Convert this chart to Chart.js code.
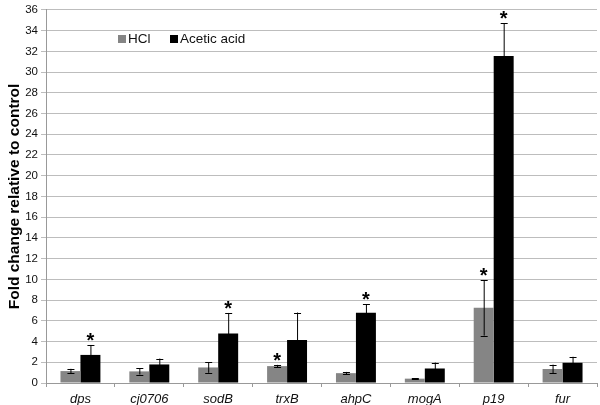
<!DOCTYPE html>
<html>
<head>
<meta charset="utf-8">
<script src="https://cdn.jsdelivr.net/npm/chart.js"></script>
<style>
  html, body { margin: 0; padding: 0; background: #fff; }
  #wrap { width: 600px; height: 405px; }
</style>
</head>
<body>
<div id="wrap"><canvas id="chart" width="600" height="405"></canvas></div>
<script>
const genes = ['dps', 'cj0706', 'sodB', 'trxB', 'ahpC', 'mogA', 'p19', 'fur'];
const hclValues = [1.15, 1.12, 1.5, 1.63, 0.95, 0.42, 7.25, 1.35];
const hclErrors = [0.22, 0.3, 0.52, 0.12, 0.12, 0.05, 2.68, 0.42];
const hclStars = [0, 0, 0, 1, 0, 0, 1, 0];
const aceticValues = [2.71, 1.79, 4.78, 4.15, 6.77, 1.4, 31.55, 1.95];
const aceticErrors = [0.96, 0.57, 1.98, 2.65, 0.83, 0.57, 3.15, 0.58];
const aceticStars = [1, 0, 1, 0, 1, 0, 1, 0];
const yTicks = [0, 2, 4, 6, 8, 10, 12, 14, 16, 18, 20, 22, 24, 26, 28, 30, 32, 34, 36];

const FONT = '"Liberation Sans", Arial, sans-serif';

// error bars + significance stars
const errorBars = {
  id: 'errorBars',
  afterDatasetsDraw(chart) {
    const ctx = chart.ctx;
    const y = chart.scales.y;
    chart.data.datasets.forEach((ds, i) => {
      const meta = chart.getDatasetMeta(i);
      meta.data.forEach((bar, j) => {
        const v = ds.data[j], e = ds.errors[j];
        const top = y.getPixelForValue(v + e);
        const bot = y.getPixelForValue(v - e);
        ctx.save();
        ctx.strokeStyle = '#000';
        ctx.lineWidth = 1;
        ctx.beginPath();
        ctx.moveTo(bar.x + 0.5, top);
        ctx.lineTo(bar.x + 0.5, bot);
        ctx.moveTo(bar.x - 3, Math.round(top) + 0.5);
        ctx.lineTo(bar.x + 4, Math.round(top) + 0.5);
        ctx.moveTo(bar.x - 3, Math.round(bot) + 0.5);
        ctx.lineTo(bar.x + 4, Math.round(bot) + 0.5);
        ctx.stroke();
        if (ds.stars[j]) {
          ctx.fillStyle = '#000';
          ctx.font = 'bold 20px ' + FONT;
          ctx.textAlign = 'center';
          ctx.textBaseline = 'alphabetic';
          ctx.fillText('*', bar.x, top + 2);
        }
        ctx.restore();
      });
    });
  }
};

// legend inside the plot area
const innerLegend = {
  id: 'innerLegend',
  afterDraw(chart) {
    const ctx = chart.ctx;
    const items = [{ x: 118 }, { x: 170 }];
    ctx.save();
    ctx.font = '13.5px ' + FONT;
    ctx.textBaseline = 'middle';
    chart.data.datasets.forEach((ds, i) => {
      const x = items[i].x, yy = 39;
      ctx.fillStyle = ds.backgroundColor;
      ctx.fillRect(x, yy - 4, 8, 8);
      ctx.fillStyle = '#111';
      ctx.fillText(ds.label, x + 10, yy);
    });
    ctx.restore();
  }
};

new Chart(document.getElementById('chart'), {
  type: 'bar',
  data: {
    labels: genes,
    datasets: [
      { label: 'HCl', data: hclValues, errors: hclErrors, stars: hclStars, backgroundColor: '#858585' },
      { label: 'Acetic acid', data: aceticValues, errors: aceticErrors, stars: aceticStars, backgroundColor: '#000000' }
    ]
  },
  options: {
    responsive: false,
    animation: false,
    layout: { padding: { top: 7, right: 3, left: 0, bottom: 0 } },
    categoryPercentage: 0.58,
    barPercentage: 1.0,
    plugins: {
      legend: { display: false },
      tooltip: { enabled: false }
    },
    scales: {
      x: {
        grid: { display: true, drawOnChartArea: false, offset: true, color: '#999', tickLength: 4 },
        border: { color: '#999' },
        ticks: { color: '#111', font: { family: FONT, size: 13, style: 'italic' }, padding: 5 },
        afterFit(s) { s.height = 22; }
      },
      y: {
        min: 0, max: 36,
        afterBuildTicks(s) { s.ticks = yTicks.map(v => ({ value: v })); },
        grid: { color: '#bdbdbd', tickLength: 5 },
        border: { color: '#999' },
        ticks: { color: '#111', font: { family: FONT, size: 11.5 }, padding: 3 },
        title: { display: true, text: 'Fold change relative to control', color: '#000', font: { family: FONT, size: 15.5, weight: 'bold' }, padding: { top: 5, bottom: 0 } },
        afterFit(s) { s.width = 46; }
      }
    }
  },
  plugins: [errorBars, innerLegend]
});
</script>
</body>
</html>
